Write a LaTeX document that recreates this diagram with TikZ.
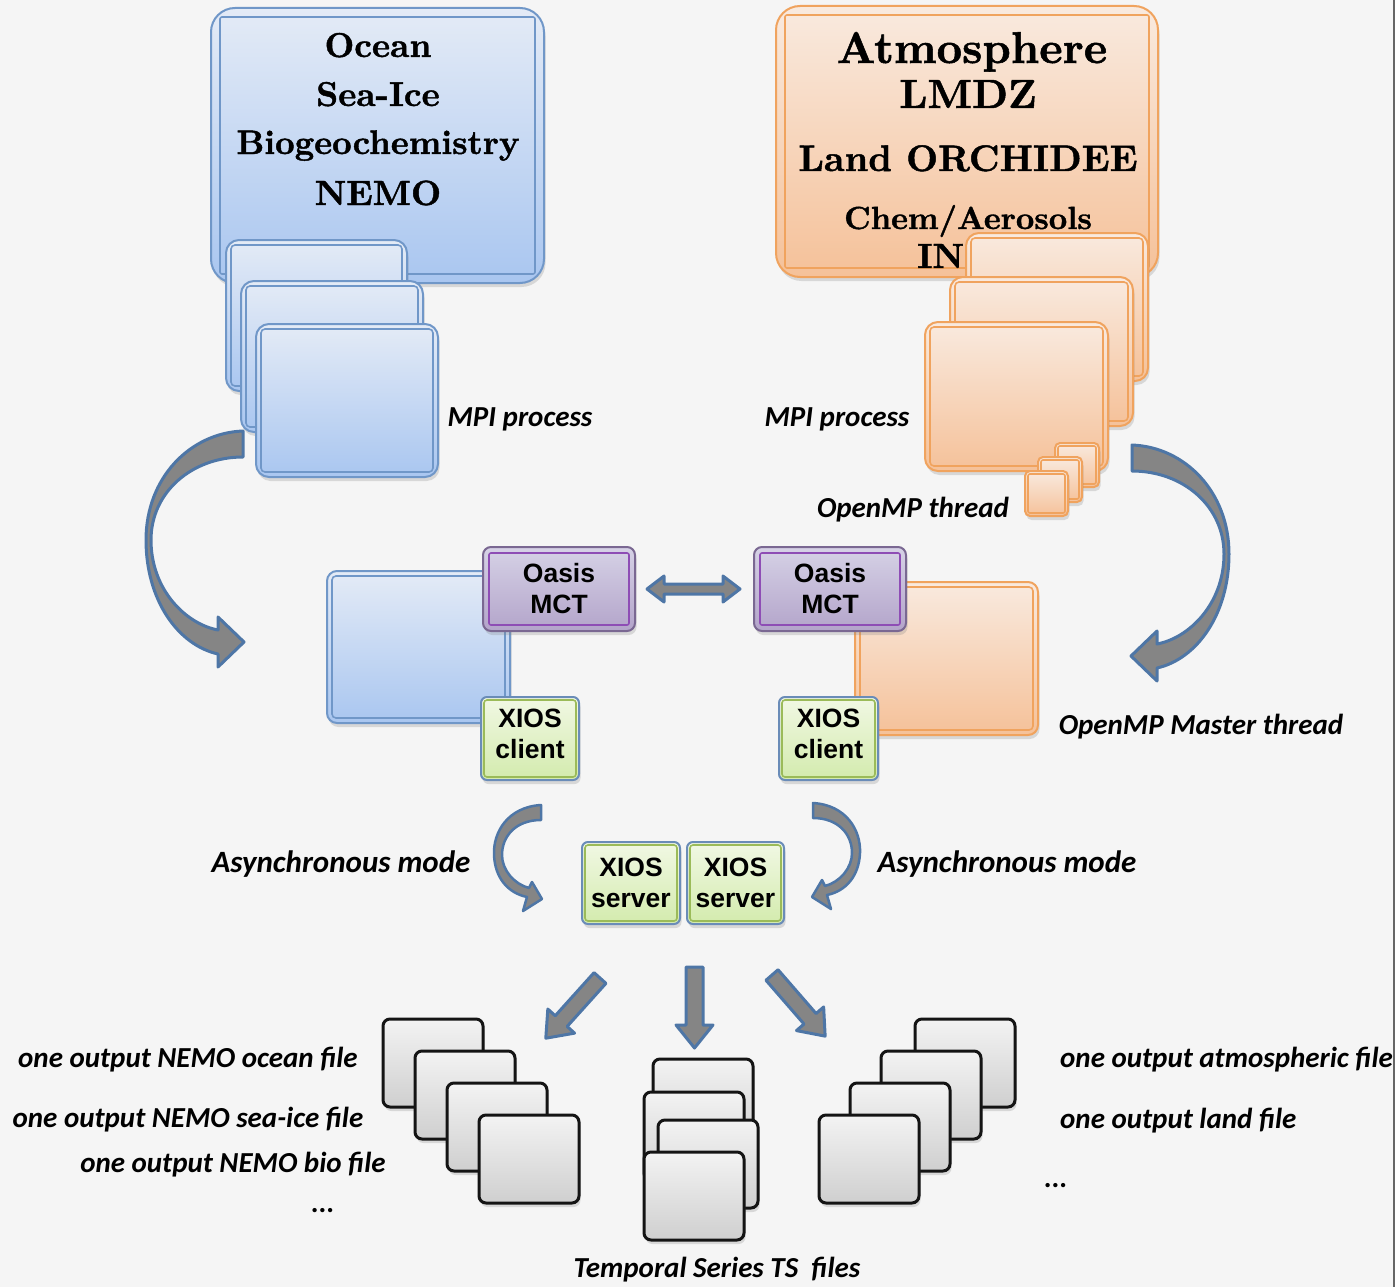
\documentclass[tikz,border=0pt]{standalone}
\usepackage{fontspec}
\newfontfamily\calfont{Carlito}
\newfontfamily\arialfont{Liberation Sans}
\newfontfamily\lmbx{lmroman10-bold}[Extension=.otf, FakeBold=1.2]
\usetikzlibrary{shadows}
\definecolor{bgc}{HTML}{F5F5F5}
\definecolor{bBorder}{HTML}{7097C8}
\definecolor{bTop}{HTML}{E4EBF6}
\definecolor{bBot}{HTML}{A9C6F0}
\definecolor{oBorder}{HTML}{F0A35E}
\definecolor{oTop}{HTML}{F9EADF}
\definecolor{oBot}{HTML}{F5C199}
\definecolor{pBorder}{HTML}{7A6892}
\definecolor{pInner}{HTML}{8E4DB5}
\definecolor{pTop}{HTML}{D6D2E6}
\definecolor{pBot}{HTML}{B3A4CA}
\definecolor{gBorder}{HTML}{6A8CB8}
\definecolor{gInner}{HTML}{9BBB59}
\definecolor{gTop}{HTML}{F1F8E4}
\definecolor{gBot}{HTML}{D3EBAD}
\definecolor{fTop}{HTML}{F3F3F3}
\definecolor{fBot}{HTML}{CFCFCF}
\definecolor{arrFill}{HTML}{858585}
\definecolor{arrDraw}{HTML}{4E76A6}
\tikzset{
 shad/.style={drop shadow={shadow xshift=1.5pt,shadow yshift=-4pt,opacity=0.25}},
 boxbase/.style={shad, anchor=north west, inner sep=0pt, outer sep=0pt, line width=2pt},
 bluebox/.style={boxbase, draw=bBorder, top color=bTop, bottom color=bBot, rounded corners=#1},
 bluebox/.default=12pt,
 orangebox/.style={boxbase, draw=oBorder, top color=oTop, bottom color=oBot, rounded corners=#1},
 orangebox/.default=12pt,
 sansfont/.style={font=\arialfont\bfseries\fontsize{26.5}{31}\selectfont, align=center},
 oasisbox/.style={boxbase, sansfont, draw=pBorder, top color=pTop, bottom color=pBot, rounded corners=8pt},
 xiosbox/.style={boxbase, sansfont, draw=gBorder, top color=gTop, bottom color=gBot, rounded corners=6pt},
 filebox/.style={boxbase, draw=black!92, line width=3pt, top color=fTop, bottom color=fBot, rounded corners=7pt},
 serif/.style={font=\lmbx\fontsize{#1}{#1}\selectfont, anchor=base, inner sep=0pt},
 lbl/.style={font=\calfont\bfseries\itshape\fontsize{29}{32}\selectfont, anchor=base, inner sep=0pt},
 fatarrow/.style={fill=arrFill, draw=arrDraw, line width=3pt, line join=round},
}
\newcommand\bx[7]{\node[#1, minimum width={(#4-#2)*1pt}, minimum height={(#5-#3)*1pt}] (#6) at (#2,#3) {#7};}
\newcommand\inl[4]{\draw[#2, line width=1.6pt, rounded corners=#4] ([shift={(#3pt,-#3pt)}]#1.north west) rectangle ([shift={(-#3pt,#3pt)}]#1.south east);}
\newcommand\fatarr[6]{\begin{scope}[shift={(#1,#2)}, rotate=#3]\path[fatarrow] (0,-#5) -- ({#4-23},-#5) -- ({#4-23},-#6) -- (#4,0) -- ({#4-23},#6) -- ({#4-23},#5) -- (0,#5) -- cycle;\end{scope}}
\begin{document}
\begin{tikzpicture}[x=1pt,y=-1pt]
\path[use as bounding box, fill=bgc] (0,0) rectangle (1395,1287);

% ---------- top left : NEMO ----------
\bx{bluebox=24pt}{211}{8}{544}{283}{nemo}{}
\inl{nemo}{bBorder}{9}{2pt}
\node[serif=34.5] (tocean) at (378,57) {Ocean};
\node[serif=34.5] (tseaice) at (378,106) {Sea-Ice};
\node[serif=34] (tbio) at (378,154) {Biogeochemistry};
\node[serif=35] (tnemo) at (378,205) {NEMO};
\bx{bluebox=13pt}{226}{240}{407}{391}{bmpiA}{}
\inl{bmpiA}{bBorder}{5}{4pt}
\bx{bluebox=13pt}{241}{281}{423}{432}{bmpiB}{}
\inl{bmpiB}{bBorder}{5}{4pt}
\bx{bluebox=13pt}{256}{324}{438}{477}{bmpiC}{}
\inl{bmpiC}{bBorder}{5}{4pt}

% ---------- top right : LMDZ ----------
\bx{orangebox=24pt}{776}{6}{1158}{277}{lmdz}{}
\inl{lmdz}{oBorder}{9}{2pt}
\node[serif=44.5] (tatm) at (972,63) {Atmosphere};
\node[serif=40.8] (tlmdz) at (968,108) {LMDZ};
\node[serif=37] (tland) at (968,171) {Land ORCHIDEE};
\node[serif=32] (tchem) at (968,229) {Chem/Aerosols};
\node[serif=35, anchor=base west] (tin) at (917,268) {IN};
\bx{orangebox=13pt}{966}{233}{1148}{381}{ompiA}{}
\inl{ompiA}{oBorder}{5}{4pt}
\bx{orangebox=13pt}{950}{277}{1133}{426}{ompiB}{}
\inl{ompiB}{oBorder}{5}{4pt}
\bx{orangebox=13pt}{925}{322}{1108}{471}{ompiC}{}
\inl{ompiC}{oBorder}{5}{4pt}
\bx{orangebox=5pt}{1055}{443}{1099}{487}{thA}{}
\inl{thA}{oBorder}{3}{2pt}
\bx{orangebox=5pt}{1038}{457}{1082}{502}{thB}{}
\inl{thB}{oBorder}{3}{2pt}
\bx{orangebox=5pt}{1025}{471}{1068}{516}{thC}{}
\inl{thC}{oBorder}{3}{2pt}

\node[lbl] (lmpiL) at (520,426) {MPI process};
\node[lbl] (lmpiR) at (837,426) {MPI process};
\node[lbl] (lomp) at (913,517) {OpenMP thread};

% ---------- big curved arrows ----------
\path[fatarrow] (243,431) .. controls (190,433) and (146,478) .. (146,540)
  .. controls (146,600) and (178,645) .. (218,654) -- (218,667) -- (244,642) -- (218,617) -- (218,630)
  .. controls (186,624) and (151,590) .. (151,540) .. controls (151,492) and (192,457) .. (243,457) -- cycle;
\begin{scope}[shift={(1375,14)}, xscale=-1]
\path[fatarrow] (243,431) .. controls (190,433) and (146,478) .. (146,540)
  .. controls (146,600) and (178,645) .. (218,654) -- (218,667) -- (244,642) -- (218,617) -- (218,630)
  .. controls (186,624) and (151,590) .. (151,540) .. controls (151,492) and (192,457) .. (243,457) -- cycle;
\end{scope}

% ---------- middle ----------
\bx{bluebox=10pt}{327}{571}{510}{723}{nemoproc}{}
\inl{nemoproc}{bBorder}{5}{4pt}
\bx{orangebox=10pt}{855}{582}{1038}{735}{lmdzproc}{}
\inl{lmdzproc}{oBorder}{5}{4pt}
\bx{oasisbox}{483}{547}{635}{631}{oasisL}{Oasis\\MCT}
\inl{oasisL}{pInner}{6}{2pt}
\bx{oasisbox}{754}{547}{906}{631}{oasisR}{Oasis\\MCT}
\inl{oasisR}{pInner}{6}{2pt}
\bx{xiosbox}{481}{697}{579}{780}{xclL}{XIOS\\client\rule[-9pt]{0pt}{0pt}}
\inl{xclL}{gInner}{3}{3pt}
\bx{xiosbox}{779}{697}{878}{780}{xclR}{XIOS\\client\rule[-9pt]{0pt}{0pt}}
\inl{xclR}{gInner}{3}{3pt}
\begin{scope}[shift={([xshift=12pt]oasisL.east)}]
\path[fatarrow] (0,0) -- (17,-13) -- (17,-5) -- (76,-5) -- (76,-13) -- (93,0) -- (76,13) -- (76,5) -- (17,5) -- (17,13) -- cycle;
\end{scope}
\node[lbl] (lmaster) at (1201,734) {OpenMP Master thread};

% ---------- XIOS servers ----------
\bx{xiosbox}{582}{842}{680}{924}{xsrvL}{XIOS\\server}
\inl{xsrvL}{gInner}{3}{3pt}
\bx{xiosbox}{687}{842}{784}{924}{xsrvR}{XIOS\\server}
\inl{xsrvR}{gInner}{3}{3pt}
\path[fatarrow, line width=2.5pt] (541,805) .. controls (508,807) and (493,832) .. (494,855)
  .. controls (495,878) and (508,893) .. (527,897) -- (523,911) -- (542,899) -- (532,882) -- (529,888)
  .. controls (514,884) and (502,870) .. (502,855) .. controls (502,836) and (516,820) .. (541,820) -- cycle;
\begin{scope}[shift={(1354,-2)}, xscale=-1]
\path[fatarrow, line width=2.5pt] (541,805) .. controls (508,807) and (493,832) .. (494,855)
  .. controls (495,878) and (508,893) .. (527,897) -- (523,911) -- (542,899) -- (532,882) -- (529,888)
  .. controls (514,884) and (502,870) .. (502,855) .. controls (502,836) and (516,820) .. (541,820) -- cycle;
\end{scope}
\node[lbl, font=\calfont\bfseries\itshape\fontsize{31}{34}\selectfont] (lasyL) at (341,872) {Asynchronous mode};
\node[lbl, font=\calfont\bfseries\itshape\fontsize{31}{34}\selectfont] (lasyR) at (1007,872) {Asynchronous mode};

% ---------- output arrows ----------
\fatarr{600}{978}{228}{81}{8}{18}
\fatarr{694.5}{967}{270}{81}{8.5}{18.5}
\fatarr{772}{975}{311}{81}{8}{18}

% ---------- files ----------
\bx{filebox}{383}{1019}{483}{1107}{fA}{}
\bx{filebox}{415}{1051}{515}{1139}{fB}{}
\bx{filebox}{447}{1083}{547}{1171}{fC}{}
\bx{filebox}{479}{1115}{579}{1203}{fD}{}
\bx{filebox}{653}{1059}{753}{1147}{mA}{}
\bx{filebox}{644}{1092}{744}{1180}{mB}{}
\bx{filebox}{658}{1120}{758}{1208}{mC}{}
\bx{filebox}{644}{1152}{744}{1240}{mD}{}
\bx{filebox}{915}{1019}{1015}{1107}{rA}{}
\bx{filebox}{881}{1051}{981}{1139}{rB}{}
\bx{filebox}{850}{1083}{950}{1171}{rC}{}
\bx{filebox}{819}{1115}{919}{1203}{rD}{}

\node[lbl] (locean) at (188,1067) {one output NEMO ocean file};
\node[lbl] (lseaice) at (188,1127) {one output NEMO sea-ice file};
\node[lbl] (lbiofile) at (233,1172) {one output NEMO bio file};
\node[lbl] (ldotsL) at (323,1212) {...};
\node[lbl, anchor=base west] (latm) at (1060,1067) {one output atmospheric file};
\node[lbl, anchor=base west] (lland) at (1060,1128) {one output land file};
\node[lbl] (ldotsR) at (1056,1187) {...};
\node[lbl] (lts) at (717,1277) {Temporal Series TS\ \ files};

\draw[line width=2.5pt, black!60] (1393.8,0) -- (1393.8,1287);
\end{tikzpicture}
\end{document}
